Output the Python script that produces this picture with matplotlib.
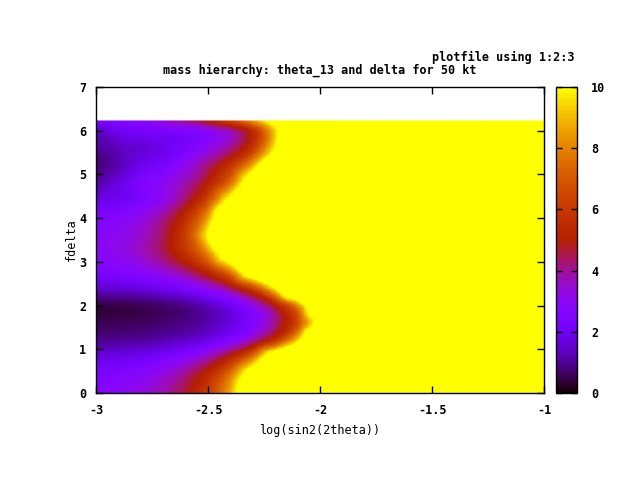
import numpy as np
import matplotlib.pyplot as plt
import matplotlib.tri as mtri

# grid: log(sin2(2theta)) columns, delta rows
xs = [-3.0, -2.9, -2.8, -2.7, -2.6, -2.5, -2.4, -2.3, -2.2, -2.1, -2.0, -1.9, -1.0]
deltas = [0.0, 0.4, 0.8, 1.2, 1.6, 2.0, 2.4, 2.8, 3.2, 3.6, 4.0, 4.4, 4.8, 5.2, 5.6, 6.0, 6.22]

# chi2 values per delta row (values above 10 saturate in the palette)
chi2 = [
    [2.77, 2.95, 3.27, 3.81, 4.72, 6.27, 8.90, 13.4, 15, 15, 15, 15, 15],
    [2.44, 2.60, 2.88, 3.36, 4.17, 5.55, 7.88, 11.8, 15, 15, 15, 15, 15],
    [1.76, 1.87, 2.06, 2.38, 2.91, 3.83, 5.40, 8.04, 12.5, 15, 15, 15, 15],
    [0.97, 1.03, 1.11, 1.26, 1.51, 1.94, 2.67, 3.90, 5.99, 9.53, 15, 15, 15],
    [0.55, 0.58, 0.64, 0.74, 0.92, 1.22, 1.74, 2.62, 4.13, 6.70, 11.1, 15, 15],
    [0.45, 0.50, 0.58, 0.72, 0.96, 1.38, 2.05, 3.18, 5.05, 8.20, 13.5, 15, 15],
    [1.52, 1.61, 1.76, 2.01, 2.43, 3.15, 4.38, 6.47, 10.0, 15, 15, 15, 15],
    [2.45, 2.62, 2.92, 3.42, 4.27, 5.73, 8.18, 12.4, 15, 15, 15, 15, 15],
    [2.81, 3.10, 3.60, 4.42, 5.84, 8.23, 12.3, 15, 15, 15, 15, 15, 15],
    [2.83, 3.07, 3.53, 4.46, 6.30, 10.0, 15, 15, 15, 15, 15, 15, 15],
    [2.49, 2.74, 3.20, 4.07, 5.68, 8.67, 14.2, 15, 15, 15, 15, 15, 15],
    [1.79, 2.02, 2.43, 3.15, 4.43, 6.71, 10.8, 15, 15, 15, 15, 15, 15],
    [1.10, 1.74, 2.47, 3.00, 3.79, 5.18, 7.66, 12.1, 15, 15, 15, 15, 15],
    [0.75, 1.25, 1.90, 2.40, 3.10, 4.26, 5.95, 8.94, 14.3, 15, 15, 15, 15],
    [1.04, 1.35, 1.60, 1.90, 2.40, 3.10, 4.08, 6.06, 10.0, 15, 15, 15, 15],
    [1.50, 2.00, 2.29, 2.38, 2.58, 3.00, 3.86, 5.67, 9.45, 15, 15, 15, 15],
    [2.49, 2.70, 3.02, 3.47, 4.12, 5.07, 6.44, 8.40, 11.3, 15, 15, 15, 15],
]

xticks = [-3, -2.5, -2, -1.5, -1]
xticklabels = ['-3', '-2.5', '-2', '-1.5', '-1']
yticks = [0, 1, 2, 3, 4, 5, 6, 7]
cbticks = [0, 2, 4, 6, 8, 10]

font = dict(family='DejaVu Sans Mono', weight='bold', size=8.5)
plt.rc('font', **font)

fig = plt.figure(figsize=(6.4, 4.8), dpi=100)
ax = fig.add_axes([96/640, 87/480, 448/640, 306/480])

# smooth surface like pm3d interpolation
X, Y = np.meshgrid(xs, deltas)
Z = np.array(chi2)
tri = mtri.Triangulation(X.ravel(), Y.ravel())
interp = mtri.CubicTriInterpolator(tri, Z.ravel(), kind='geom')
refiner = mtri.UniformTriRefiner(tri)
tri_f, z_f = refiner.refine_field(Z.ravel(), triinterpolator=interp, subdiv=4)
mesh = ax.tripcolor(tri_f, z_f, shading='gouraud', cmap='gnuplot', vmin=0, vmax=10)

ax.set_xlim(-3, -1)
ax.set_ylim(0, 7)
ax.set_xticks(xticks)
ax.set_xticklabels(xticklabels)
ax.set_yticks(yticks)
ax.tick_params(direction='in', length=5, width=1, top=True, right=True, colors='black')
ax.tick_params(axis='x', pad=8)
ax.tick_params(axis='y', pad=7)
for s in ax.spines.values():
    s.set_linewidth(1)
ax.set_xlabel('log(sin2(2theta))', labelpad=5)
ax.set_ylabel('fdelta', labelpad=1)

cax = fig.add_axes([556/640, 87/480, 21/640, 306/480])
cb = fig.colorbar(mesh, cax=cax, ticks=cbticks)
cb.outline.set_linewidth(1)
cax.tick_params(direction='in', length=4, width=1, left=True, right=True, pad=10)

fig.text(320/640, 1 - 70/480, 'mass hierarchy: theta_13 and delta for 50 kt', ha='center', va='center')
fig.text(575/640, 1 - 57/480, 'plotfile using 1:2:3', ha='right', va='center')

fig.savefig('out.png', dpi=100)
